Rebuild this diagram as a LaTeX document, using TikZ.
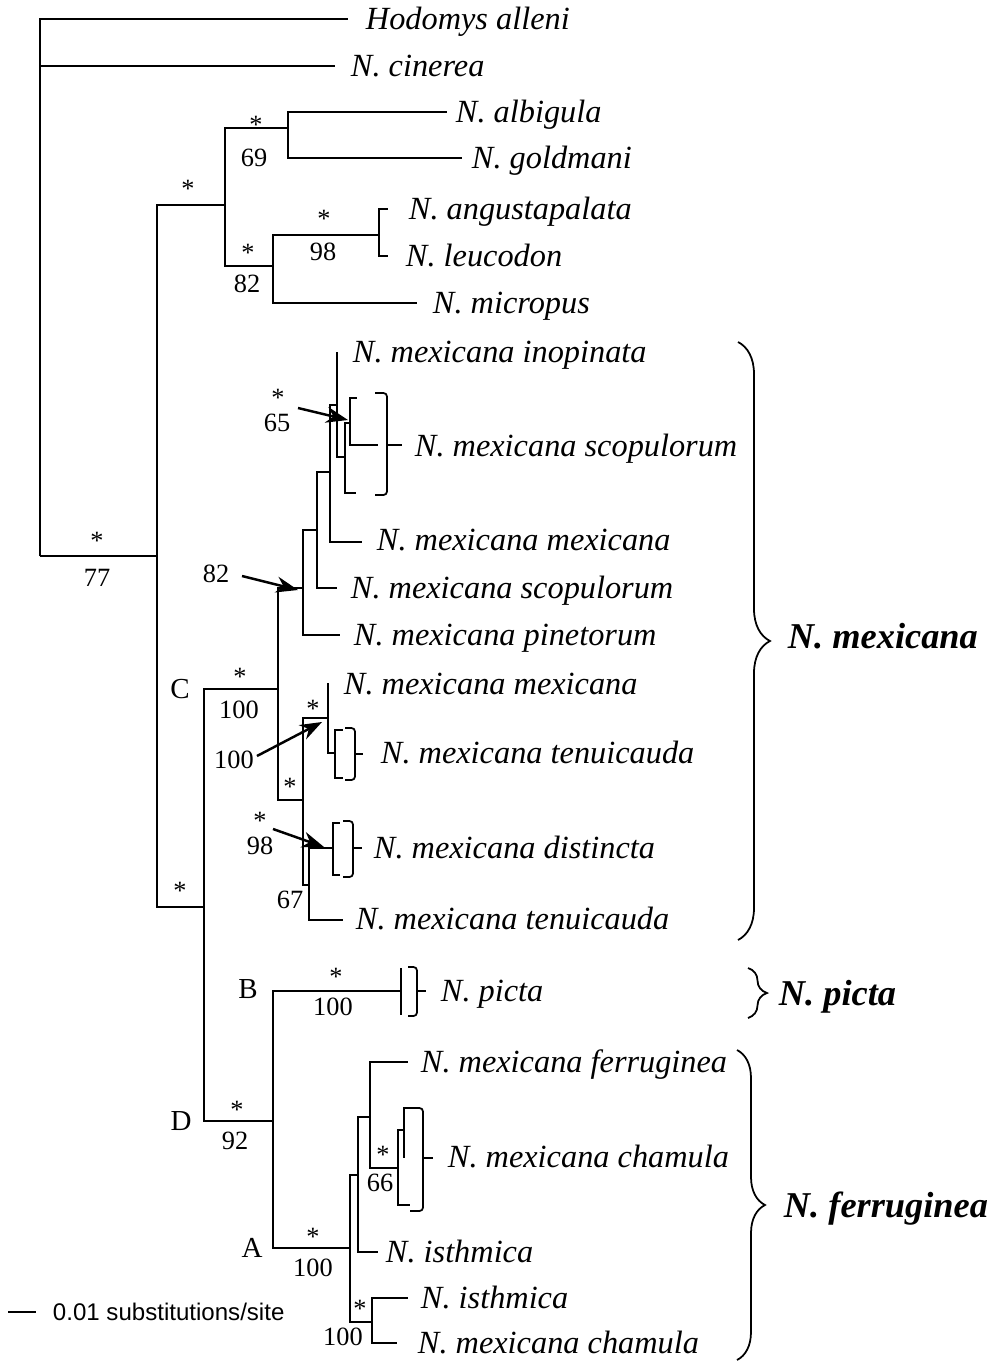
\documentclass[tikz,border=0pt]{standalone}
\usepackage{fontspec}
\setmainfont{Liberation Serif}
\setsansfont{Liberation Sans}
\usetikzlibrary{positioning,arrows.meta,decorations.pathreplacing}

\begin{document}
\begin{tikzpicture}
        [x=0.02cm, y=-0.02cm, line width=1.1pt,
        taxon/.style={anchor=west, inner sep=0pt, text height=12.1pt, text depth=0pt,
            font=\fontsize{18.4}{20}\selectfont\itshape},
        supp/.style={inner sep=0pt, text height=9.9pt, text depth=0pt,
            font=\fontsize{15}{17}\selectfont},
        ast/.style={supp},
        cladename/.style={inner sep=0pt, text height=10.9pt, text depth=0pt,
            font=\fontsize{16.5}{18}\selectfont},
        grp/.style={anchor=west, inner sep=0pt, text height=13.7pt, text depth=0pt,
            font=\fontsize{20.7}{22}\selectfont\bfseries\itshape},
        pointer/.style={-{Stealth[length=0.44cm,width=0.32cm]}, line width=1.4pt},
        sqbr/.style={rounded corners=0.07cm, line width=1pt},
        brk/.style={decorate, decoration={brace, amplitude=#1}, line width=1pt}]
        \useasboundingbox (0,0) rectangle (999,1365);

        % internal nodes
        \coordinate (root) at (40,556);
        \coordinate (ingrp) at (157,556);
        \coordinate (upper) at (225,205);
        \coordinate (albgol) at (288,128);
        \coordinate (angmic) at (273,266);
        \coordinate (angleu) at (379,235);
        \coordinate (lower) at (204,907);
        \coordinate (cladeC) at (278,689);
        \coordinate (nP) at (303,588);
        \coordinate (nQ) at (317,530);
        \coordinate (nR) at (330,472);
        \coordinate (nS) at (337,405);
        \coordinate (nT) at (345,457);
        \coordinate (nU) at (350,423);
        \coordinate (nV) at (303,800);
        \coordinate (nW) at (328,718);
        \coordinate (nX) at (335,753);
        \coordinate (nZ) at (309,885);
        \coordinate (nY) at (333,848);
        \coordinate (cladeD) at (273,1121);
        \coordinate (cladeA) at (350,1248);
        \coordinate (nF) at (358,1175);
        \coordinate (nH) at (370,1117);
        \coordinate (nK) at (398,1168);
        \coordinate (nK2) at (404,1130);
        \coordinate (nG) at (372,1322);

        % branch tips
        \coordinate (hodT) at (348,19);
        \coordinate (cinT) at (335,66);
        \coordinate (albT) at (447,112);
        \coordinate (golT) at (462,158);
        \coordinate (angT) at (388,209);
        \coordinate (leuT) at (388,256);
        \coordinate (micT) at (417,303);
        \coordinate (inoT) at (337,352);
        \coordinate (uT1) at (357,398);
        \coordinate (uT2) at (378,445);
        \coordinate (tT) at (356,493);
        \coordinate (mexT1) at (362,542);
        \coordinate (scoT2) at (337,588);
        \coordinate (pinT) at (340,635);
        \coordinate (mexT2) at (328,683);
        \coordinate (xT1) at (343,730);
        \coordinate (xT2) at (343,778);
        \coordinate (yT1) at (340,823);
        \coordinate (yT2) at (340,875);
        \coordinate (tenT2) at (343,920);
        \coordinate (picT) at (401,991);
        \coordinate (picTop) at (401,968);
        \coordinate (picBot) at (401,1015);
        \coordinate (ferT) at (408,1062);
        \coordinate (kT) at (410,1205);
        \coordinate (k2T) at (411,1108);
        \coordinate (k2B) at (404,1158);
        \coordinate (isthT1) at (378,1252);
        \coordinate (isthT2) at (408,1298);
        \coordinate (chaT2) at (397,1343);

        % tree
        \draw (root) |- (hodT);
        \draw (root) |- (cinT);
        \draw (root) -- (ingrp);
        \draw (ingrp) |- (upper);
        \draw (ingrp) |- (lower);
        \draw (upper) |- (albgol);
        \draw (upper) |- (angmic);
        \draw (albgol) |- (albT);
        \draw (albgol) |- (golT);
        \draw (angmic) |- (angleu);
        \draw (angmic) |- (micT);
        \draw (angleu) |- (angT);
        \draw (angleu) |- (leuT);
        \draw (lower) |- (cladeC);
        \draw (lower) |- (cladeD);
        \draw (cladeC) |- (nP);
        \draw (cladeC) |- (nV);
        \draw (nP) |- (nQ);
        \draw (nP) |- (pinT);
        \draw (nQ) |- (nR);
        \draw (nQ) |- (scoT2);
        \draw (nR) |- (nS);
        \draw (nR) |- (mexT1);
        \draw (nS) -- (inoT);
        \draw (nS) |- (nT);
        \draw (nT) |- (nU);
        \draw (nT) |- (tT);
        \draw (nU) |- (uT1);
        \draw (nU) |- (uT2);
        \draw (nV) |- (nW);
        \draw (nV) |- (nZ);
        \draw (nW) -- (mexT2);
        \draw (nW) |- (nX);
        \draw (nX) |- (xT1);
        \draw (nX) |- (xT2);
        \draw (nZ) |- (nY);
        \draw (nZ) |- (tenT2);
        \draw (nY) |- (yT1);
        \draw (nY) |- (yT2);
        \draw (cladeD) |- (picT);
        \draw (picTop) -- (picBot);
        \draw (cladeD) |- (cladeA);
        \draw (cladeA) |- (nF);
        \draw (cladeA) |- (nG);
        \draw (nF) |- (nH);
        \draw (nF) |- (isthT1);
        \draw (nH) |- (ferT);
        \draw (nH) |- (nK);
        \draw (nK) |- (nK2);
        \draw (nK) |- (kT);
        \draw (nK2) |- (k2T);
        \draw (nK2) -- (k2B);
        \draw (nG) |- (isthT2);
        \draw (nG) |- (chaT2);

        % taxa
        \node[taxon] (hod) at (365,19) {Hodomys alleni};
        \node[taxon] (cin) at (350,66) {N. cinerea};
        \node[taxon] (alb) at (455,112) {N. albigula};
        \node[taxon] (gol) at (471,158) {N. goldmani};
        \node[taxon] (ang) at (408,209) {N. angustapalata};
        \node[taxon] (leu) at (405,256) {N. leucodon};
        \node[taxon] (mic) at (432,303) {N. micropus};
        \node[taxon] (ino) at (352,352) {N. mexicana inopinata};
        \node[taxon] (sco1) at (414,446) {N. mexicana scopulorum};
        \node[taxon] (mex1) at (376,540) {N. mexicana mexicana};
        \node[taxon] (sco2) at (350,588) {N. mexicana scopulorum};
        \node[taxon] (pin) at (353,635) {N. mexicana pinetorum};
        \node[taxon] (mex2) at (343,684) {N. mexicana mexicana};
        \node[taxon] (ten1) at (380,753) {N. mexicana tenuicauda};
        \node[taxon] (dis) at (373,848) {N. mexicana distincta};
        \node[taxon] (ten2) at (355,919) {N. mexicana tenuicauda};
        \node[taxon] (pic) at (440,991) {N. picta};
        \node[taxon] (fer) at (420,1062) {N. mexicana ferruginea};
        \node[taxon] (cha1) at (447,1157) {N. mexicana chamula};
        \node[taxon] (ist1) at (385,1252) {N. isthmica};
        \node[taxon] (ist2) at (420,1298) {N. isthmica};
        \node[taxon] (cha2) at (417,1343) {N. mexicana chamula};

        % sample brackets
        \draw[sqbr] (375,393) -- (387,393) -- (387,495) -- (375,495);
        \draw[line width=1pt] (387,445) -- (402,445);
        \draw[sqbr] (345,728) -- (355,728) -- (355,780) -- (345,780);
        \draw[line width=1pt] (355,754) -- (363,754);
        \draw[sqbr] (343,821) -- (353,821) -- (353,877) -- (343,877);
        \draw[line width=1pt] (353,848) -- (362,848);
        \draw[sqbr] (408,967) -- (417,967) -- (417,1016) -- (408,1016);
        \draw[line width=1pt] (417,991) -- (426,991);
        \draw[sqbr] (410,1108) -- (423,1108) -- (423,1211) -- (410,1211);
        \draw[line width=1pt] (423,1158) -- (433,1158);

        % species groups
        \draw[brk=0.64cm] (738,342) -- (738,940);
        \draw[brk=0.38cm] (748,968) -- (748,1018);
        \draw[brk=0.56cm] (737,1050) -- (737,1360);
        \node[grp] (gmex) at (787,636) {N. mexicana};
        \node[grp] (gpic) at (778,993) {N. picta};
        \node[grp] (gfer) at (783,1205) {N. ferruginea};

        % support values
        \node[ast] (s77) at (97,541) {*};
        \node[supp] (b77) at (97,578) {77};
        \node[ast] (sup) at (188,189) {*};
        \node[ast] (s69) at (256,125) {*};
        \node[supp] (b69) at (254,158) {69};
        \node[ast] (s82) at (248,253) {*};
        \node[supp] (b82) at (247,284) {82};
        \node[ast] (s98) at (324,219) {*};
        \node[supp] (b98) at (323,252) {98};
        \node[ast] (s65) at (278,398) {*};
        \node[supp] (b65) at (277,423) {65};
        \node[supp] (c82) at (216,574) {82};
        \node[ast] (sC) at (240,677) {*};
        \node[supp] (bC) at (239,710) {100};
        \node[ast] (sW) at (313,709) {*};
        \node[supp] (bW) at (234,760) {100};
        \node[ast] (sV) at (290,787) {*};
        \node[ast] (sY) at (260,821) {*};
        \node[supp] (bY) at (260,846) {98};
        \node[supp] (bZ) at (290,900) {67};
        \node[ast] (slow) at (180,891) {*};
        \node[ast] (sB) at (336,977) {*};
        \node[supp] (bB) at (333,1007) {100};
        \node[ast] (sD) at (237,1110) {*};
        \node[supp] (bD) at (235,1141) {92};
        \node[ast] (sA) at (313,1237) {*};
        \node[supp] (bA) at (313,1268) {100};
        \node[ast] (sK) at (383,1155) {*};
        \node[supp] (bK) at (380,1183) {66};
        \node[ast] (sG) at (360,1309) {*};
        \node[supp] (bG) at (343,1337) {100};

        % clade letters
        \node[cladename] (lC) at (180,689) {C};
        \node[cladename] (lD) at (181,1121) {D};
        \node[cladename] (lB) at (248,989) {B};
        \node[cladename] (lA) at (252,1248) {A};

        % arrows to short branches
        \coordinate (a65) at (298,408);
        \coordinate (h65) at (348,420);
        \coordinate (a82) at (242,576);
        \coordinate (h82) at (298,590);
        \coordinate (a100) at (257,756);
        \coordinate (h100) at (322,722);
        \coordinate (a98) at (273,829);
        \coordinate (h98) at (324,847);
        \draw[pointer] (a65) -- (h65);
        \draw[pointer] (a82) -- (h82);
        \draw[pointer] (a100) -- (h100);
        \draw[pointer] (a98) -- (h98);

        % scale
        \coordinate (sb1) at (8,1312);
        \coordinate (sb2) at (36,1312);
        \draw (sb1) -- (sb2);
        \node[anchor=west, inner sep=0pt, text height=9.9pt, text depth=0pt,
            font=\sffamily\fontsize{13.7}{15}\selectfont] (sbl) at (52,1312) {0.01 substitutions/site};
\end{tikzpicture}
\end{document}
